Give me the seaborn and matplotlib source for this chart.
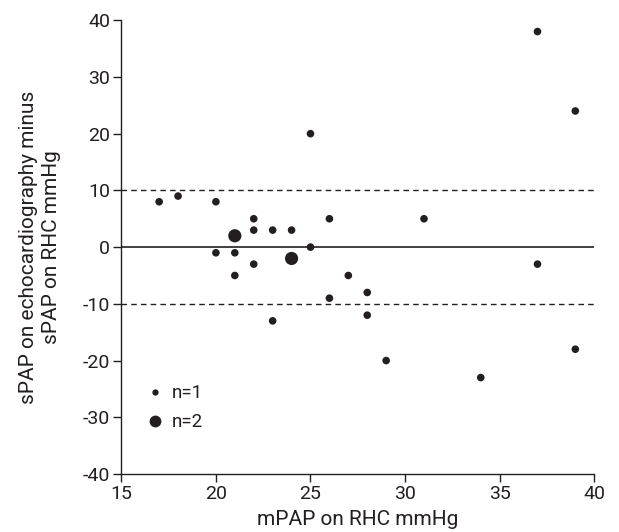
import matplotlib
matplotlib.use("Agg")
import matplotlib.pyplot as plt
import seaborn as sns
import pandas as pd
from matplotlib.lines import Line2D

mpap = [17, 18, 20, 20, 21, 21, 21, 22, 22, 22, 23, 23, 24, 24, 25, 25, 26, 26,
        27, 28, 28, 29, 31, 34, 37, 37, 39, 39]
diff = [8, 9, 8, -1, 2, -1, -5, 5, 3, -3, 3, -13, 3, -2, 20, 0, 5, -9,
        -5, -8, -12, -20, 5, -23, 38, -3, 24, -18]
count = [1, 1, 1, 1, 2, 1, 1, 1, 1, 1, 1, 1, 1, 2, 1, 1, 1, 1,
         1, 1, 1, 1, 1, 1, 1, 1, 1, 1]
limits = [10, -10]
xticks = [15, 20, 25, 30, 35, 40]
yticks = [-40, -30, -20, -10, 0, 10, 20, 30, 40]

df = pd.DataFrame({"mpap": mpap, "diff": diff, "n": count})

sns.set_style("ticks")
plt.rcParams['font.family'] = ['Roboto', 'DejaVu Sans']
plt.rcParams['axes.unicode_minus'] = False

ink = "#231f20"
fig = plt.figure(figsize=(6.19, 5.32), dpi=100)
ax = fig.add_axes([0.196, 0.109, 0.764, 0.853])

ax.axhline(0, color=ink, lw=1.2, zorder=1)
for l in limits:
    ax.axhline(l, color=ink, lw=1.0, ls=(0, (4, 3)), zorder=1)

sns.scatterplot(data=df, x="mpap", y="diff", size="n", sizes={1: 30, 2: 90},
                color=ink, edgecolor="none", linewidth=0, legend=False, ax=ax, zorder=3)

ax.set_xlim(15, 40)
ax.set_ylim(-40, 40)
ax.set_xticks(xticks)
ax.set_yticks(yticks)
ax.tick_params(labelsize=14, length=6, width=1, pad=2, color=ink, labelcolor=ink)
for s in ["top", "right"]:
    ax.spines[s].set_visible(False)
for s in ["left", "bottom"]:
    ax.spines[s].set_color(ink)
    ax.spines[s].set_linewidth(1.0)

ax.set_xlabel("mPAP on RHC mmHg", fontsize=15, color=ink)
ax.xaxis.set_label_coords(0.5, -0.079)
ax.set_ylabel("sPAP on echocardiography minus\nsPAP on RHC mmHg", fontsize=15,
              color=ink, linespacing=1.3)
ax.yaxis.set_label_coords(-0.127, 0.5)

handles = [Line2D([], [], marker="o", ls="none", color=ink, markersize=4.5, markeredgewidth=0),
           Line2D([], [], marker="o", ls="none", color=ink, markersize=8.5, markeredgewidth=0)]
ax.legend(handles, ["n=1", "n=2"], loc="lower left", bbox_to_anchor=(0.02, 0.065),
          frameon=False, fontsize=13.5, handletextpad=0.3, handlelength=1.2,
          labelspacing=0.6, borderaxespad=0.3, labelcolor=ink)

fig.savefig("out.png", dpi=100)
